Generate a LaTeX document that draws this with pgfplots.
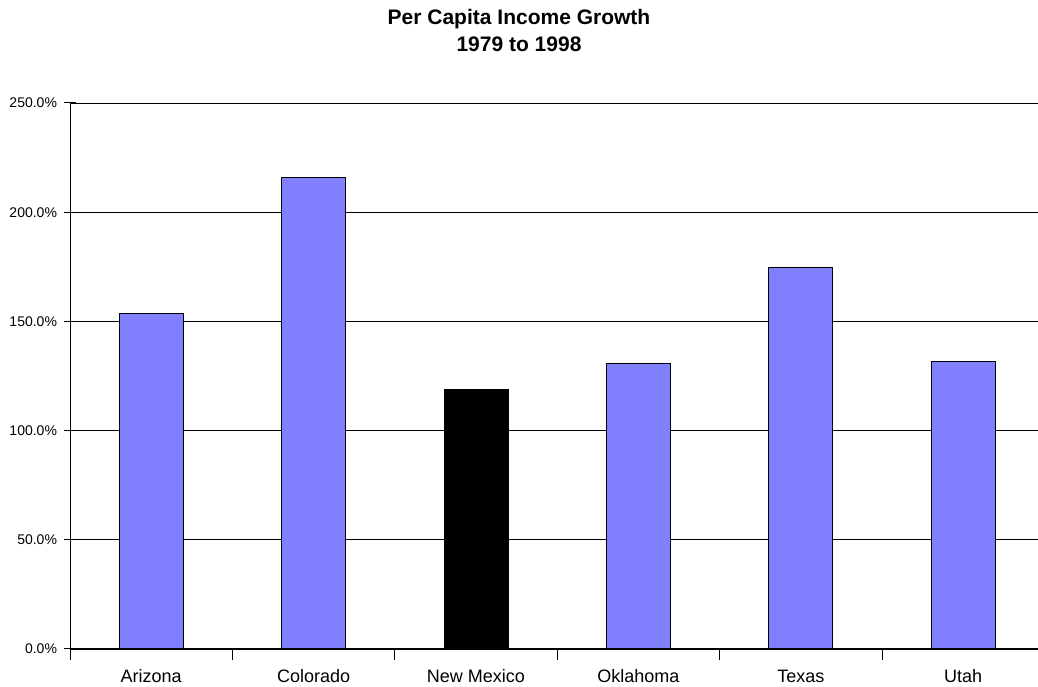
\documentclass[border=0pt]{standalone}
\usepackage{pgfplots}
\pgfplotsset{compat=1.18}
\usepackage{fontspec}
\setmainfont{Liberation Sans}
\definecolor{barblue}{RGB}{128,128,255}
\begin{document}
\begin{tikzpicture}[x=1pt,y=1pt]
\useasboundingbox (0,0) rectangle (1038,687);
\node[font=\fontsize{21}{27}\selectfont\bfseries, anchor=base] at (519,662) {Per Capita Income Growth};
\node[font=\fontsize{21}{27}\selectfont\bfseries, anchor=base] at (519,635) {1979 to 1998};
\begin{axis}[
  at={(70pt,38pt)}, anchor=south west,
  scale only axis, width=974.4pt, height=546pt,
  xmin=-0.5, xmax=5.5, ymin=0, ymax=250,
  axis x line=bottom, axis y line=left,
  axis line style={-, line width=1pt, black},
  ymajorgrids, grid style={black, line width=0.8pt},
  ytick={0,50,...,250},
  yticklabel={\pgfmathprintnumber[fixed,fixed zerofill,precision=1]{\tick}\%},
  yticklabel style={font=\fontsize{14}{14}\selectfont, xshift=-4pt},
  /pgf/number format/assume math mode=true,
  xtick align=center, ytick align=center, major tick length=11pt,
  tick style={black, line width=1pt},
  xtick={-0.5,0.5,...,5.5}, xticklabels={},
  extra x ticks={0,1,2,3,4,5},
  extra x tick labels={Arizona,Colorado,New Mexico,Oklahoma,Texas,Utah},
  extra x tick style={major tick length=0pt, grid=none,
     xticklabel style={font=\fontsize{18}{18}\selectfont, anchor=base, yshift=-34pt}},
  ybar, bar width=64pt,
]
\addplot[ybar, bar shift=0pt, fill=barblue, draw=black, line width=1pt] coordinates {
  (0,153.6) (1,216.0) (3,130.8) (4,174.8) (5,131.7)
};
\addplot[ybar, bar shift=0pt, fill=black, draw=black, line width=1pt] coordinates {
  (2,119.0)
};
\end{axis}
\end{tikzpicture}
\end{document}
